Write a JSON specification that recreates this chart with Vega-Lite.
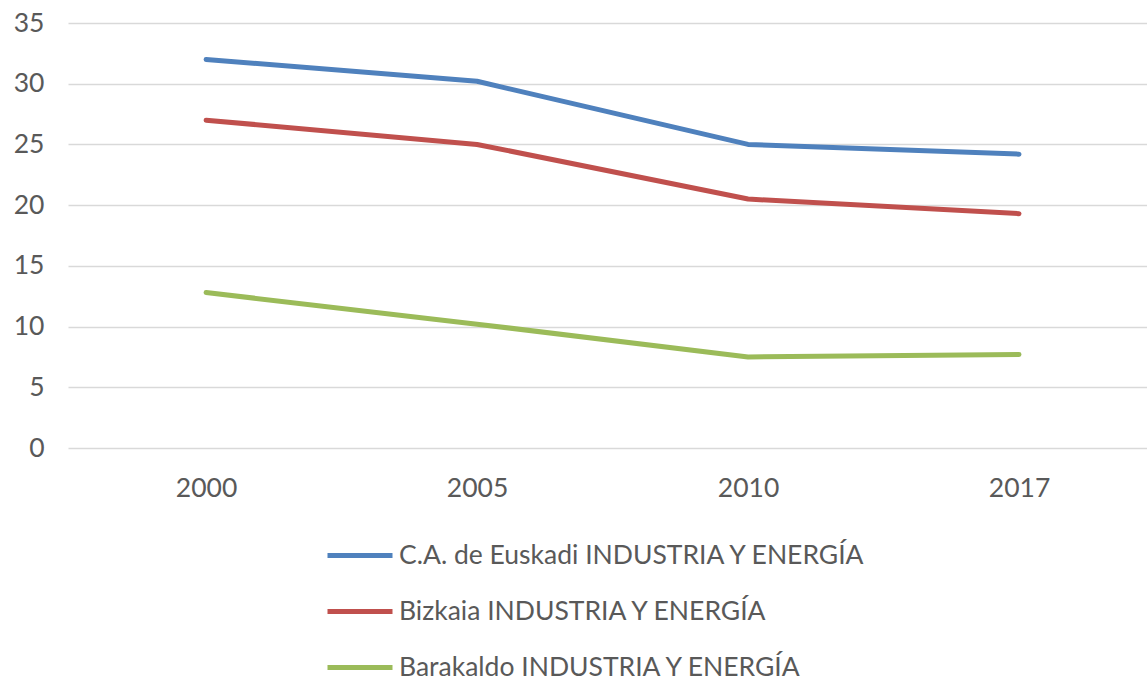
{
  "$schema": "https://vega.github.io/schema/vega-lite/v6.json",
  "autosize": {"type": "none"},
  "width": 1079,
  "height": 425,
  "padding": {"left": 68, "top": 23, "right": 0, "bottom": 232},
  "background": "white",
  "config": {"view": {"stroke": null}, "font": "Lato"},
  "data": {"values": [
    {"year": "2000", "serie": "C.A. de Euskadi INDUSTRIA Y ENERGÍA", "value": 32.0},
    {"year": "2005", "serie": "C.A. de Euskadi INDUSTRIA Y ENERGÍA", "value": 30.2},
    {"year": "2010", "serie": "C.A. de Euskadi INDUSTRIA Y ENERGÍA", "value": 25.0},
    {"year": "2017", "serie": "C.A. de Euskadi INDUSTRIA Y ENERGÍA", "value": 24.2},
    {"year": "2000", "serie": "Bizkaia INDUSTRIA Y ENERGÍA", "value": 27.0},
    {"year": "2005", "serie": "Bizkaia INDUSTRIA Y ENERGÍA", "value": 25.0},
    {"year": "2010", "serie": "Bizkaia INDUSTRIA Y ENERGÍA", "value": 20.5},
    {"year": "2017", "serie": "Bizkaia INDUSTRIA Y ENERGÍA", "value": 19.3},
    {"year": "2000", "serie": "Barakaldo INDUSTRIA Y ENERGÍA", "value": 12.8},
    {"year": "2005", "serie": "Barakaldo INDUSTRIA Y ENERGÍA", "value": 10.2},
    {"year": "2010", "serie": "Barakaldo INDUSTRIA Y ENERGÍA", "value": 7.5},
    {"year": "2017", "serie": "Barakaldo INDUSTRIA Y ENERGÍA", "value": 7.7}
  ]},
  "mark": {"type": "line", "strokeWidth": 5, "strokeCap": "round", "strokeJoin": "round"},
  "encoding": {
    "x": {
      "field": "year", "type": "ordinal",
      "scale": {"type": "point", "padding": 0.491, "align": 0.519},
      "axis": {"title": null, "grid": false, "domain": false, "ticks": false, "labelAngle": 0,
               "labelFontSize": 26.5, "labelColor": "#595959", "labelPadding": 27}
    },
    "y": {
      "field": "value", "type": "quantitative",
      "scale": {"domain": [0, 35], "nice": false, "zero": true},
      "axis": {"title": null, "values": [0, 5, 10, 15, 20, 25, 30, 35], "domain": false, "ticks": false,
               "gridColor": "#D9D9D9", "gridWidth": 1.5, "labelFontSize": 26.5, "labelColor": "#595959",
               "labelPadding": 24}
    },
    "color": {
      "field": "serie", "type": "nominal",
      "scale": {
        "domain": ["C.A. de Euskadi INDUSTRIA Y ENERGÍA", "Bizkaia INDUSTRIA Y ENERGÍA", "Barakaldo INDUSTRIA Y ENERGÍA"],
        "range": ["#4F81BD", "#C0504D", "#9BBB59"]
      },
      "legend": {
        "orient": "none", "legendX": 257, "legendY": 519, "title": null, "direction": "vertical",
        "symbolType": "stroke", "symbolSize": 4225, "symbolStrokeWidth": 5, "labelOffset": 4,
        "labelFontSize": 26.5, "labelColor": "#595959", "rowPadding": 29, "clipHeight": 27,
        "labelLimit": 800
      }
    }
  }
}
